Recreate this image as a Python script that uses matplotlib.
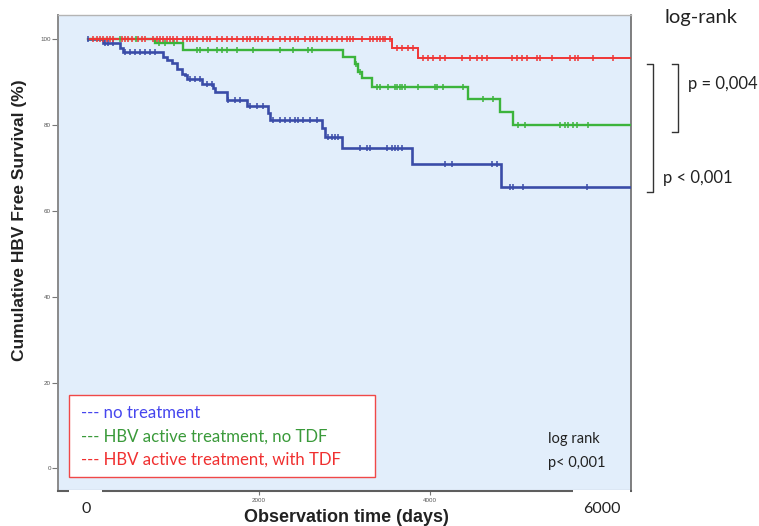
import numpy as np
import matplotlib
matplotlib.use("Agg")
import matplotlib.pyplot as plt
from matplotlib.lines import Line2D
from matplotlib.patches import Rectangle

# Kaplan-Meier step data: event times (days) and survival (%) after each step
blue_t = [0, 180, 374, 406, 881, 925, 980, 1040, 1100, 1135, 1154, 1330, 1466, 1485,
          1622, 1856, 2109, 2129, 2733, 2772, 2967, 3786, 4826]
blue_s = [100, 99.2, 98.0, 97.0, 95.9, 95.2, 94.4, 93.2, 92.0, 91.7, 90.7, 89.5, 88.6, 87.8,
          86.0, 84.5, 82.8, 81.2, 79.3, 77.2, 74.7, 70.9, 65.5]

green_t = [0, 784, 1107, 2987, 3123, 3162, 3201, 3318, 4448, 4819, 4975]
green_s = [100, 99.1, 97.6, 96.0, 94.3, 92.5, 90.9, 89.0, 86.1, 83.0, 80.0]

red_t = [0, 3552, 3856]
red_s = [100, 98.1, 95.7]

# censored observations (days)
blue_cens = [0, 199, 238, 296, 433, 491, 550, 608, 667, 725, 784, 1193, 1251, 1310, 1388, 1446,
             1641, 1719, 1778, 1895, 1973, 2051, 2168, 2246, 2304, 2363, 2421, 2460, 2519,
             2596, 2674, 2811, 2850, 2889, 2928, 3181, 3259, 3298, 3493, 3552, 3591, 3630,
             3669, 4175, 4254, 4722, 4780, 4936, 4967, 5084, 5833]
green_cens = [370, 560, 830, 900, 1000, 1270, 1310, 1407, 1505, 1563, 1622, 1739, 1934, 2246,
              2402, 2577, 2616, 3140, 3180, 3376, 3415, 3513, 3591, 3610, 3649, 3669, 3708,
              3864, 4058, 4078, 4156, 4390, 4624, 4741, 5033, 5111, 5520, 5579, 5618, 5676,
              5715, 5851]
red_cens = [62, 101, 140, 179, 218, 257, 296, 394, 433, 472, 511, 589, 628, 667, 764, 803,
            842, 881, 920, 959, 998, 1037, 1115, 1154, 1193, 1232, 1271, 1349, 1388, 1427,
            1505, 1563, 1622, 1680, 1739, 1817, 1856, 1895, 1953, 1992, 2031, 2109, 2168,
            2246, 2304, 2363, 2421, 2460, 2538, 2596, 2635, 2674, 2733, 2791, 2850, 2908,
            2967, 3025, 3064, 3103, 3201, 3298, 3337, 3376, 3415, 3454, 3474, 3532, 3610,
            3669, 3747, 3805, 3915, 3980, 4039, 4117, 4175, 4371, 4468, 4546, 4605, 4663,
            4955, 5014, 5072, 5131, 5248, 5287, 5423, 5637, 5696, 5734, 5910, 6143]

y_ticks = [0, 20, 40, 60, 80, 100]
x_ticks = [2000, 4000]
x_tick_labels = ["2000", "4000"]

legend_labels = ["--- no treatment",
                 "--- HBV active treatment, no TDF",
                 "--- HBV active treatment, with TDF"]

T_END = 6340
W, H = 759, 526

fig = plt.figure(figsize=(W / 100, H / 100), dpi=100)
fig.patch.set_facecolor("white")
ax = fig.add_axes([58 / W, 1 - 490.7 / H, (631 - 58) / W, (490.7 - 15) / H])
ax.set_facecolor("#e2eefb")


def step_value(times, surv, t):
    i = np.searchsorted(times, t, side="right") - 1
    return np.asarray(surv)[i]


def km(times, surv, cens, color, lw):
    tt = list(times) + [T_END]
    ss = list(surv) + [surv[-1]]
    ax.plot(tt, ss, drawstyle="steps-post", color=color, lw=lw, solid_joinstyle="miter",
            zorder=3)
    cy = [step_value(times, surv, c) for c in cens]
    ax.plot(cens, cy, linestyle="none", marker="|", markersize=5, mew=1.1, color=color,
            zorder=4)


km(blue_t, blue_s, blue_cens, "#3a4ca8", 1.9)
km(green_t, green_s, green_cens, "#3cb43c", 1.7)
km(red_t, red_s, red_cens, "#f03535", 1.4)

ax.set_xlim(-351, 6351)
ax.set_ylim(-5.2, 105.7)
ax.set_yticks(y_ticks)
ax.set_yticklabels([str(v) for v in y_ticks], fontsize=4.5, color="#555555",
                   family="Liberation Sans")
ax.set_xticks(x_ticks)
ax.set_xticklabels(x_tick_labels, fontsize=4.5, color="#555555", family="Liberation Sans")
ax.tick_params(axis="y", direction="out", length=4, width=0.8, color="#777777", pad=1)
ax.tick_params(axis="x", direction="out", length=3, width=0.8, color="#777777", pad=2)

for side, col, lw in [("left", "#8a8a8a", 1.4), ("bottom", "#5e5e5e", 1.5),
                      ("right", "#6a6a6a", 1.2), ("top", "#b4b4b4", 1.0)]:
    ax.spines[side].set_color(col)
    ax.spines[side].set_linewidth(lw)

# white patches over the lower axis line around the end labels
fig.add_artist(Rectangle((69 / W, 1 - 497 / H), 33 / W, 7.5 / H, transform=fig.transFigure,
                         facecolor="white", edgecolor="none", zorder=5))
fig.add_artist(Rectangle((573 / W, 1 - 497 / H), 57 / W, 7.5 / H, transform=fig.transFigure,
                         facecolor="white", edgecolor="none", zorder=5))

# axis titles
fig.text(20 / W, 1 - 220 / H, "Cumulative HBV Free Survival (%)", rotation=90,
         ha="center", va="center", fontsize=12.5, fontweight="bold", color="#222222",
         family="Liberation Sans")
fig.text(346 / W, 1 - 518 / H, "Observation time (days)", ha="center", va="center",
         fontsize=13, fontweight="bold", color="#222222", family="Liberation Sans")

cal = "Lato"
fig.text(86 / W, 1 - 509 / H, "0", ha="center", va="center", fontsize=11.5,
         color="#222222", family=cal)
fig.text(602 / W, 1 - 509 / H, "6000", ha="center", va="center", fontsize=11.5,
         color="#222222", family=cal)

# legend box
fig.add_artist(Rectangle((69 / W, 1 - 476.7 / H), (375 - 69) / W, (476.7 - 395) / H,
                         transform=fig.transFigure, facecolor="white",
                         edgecolor="#f04848", lw=1.0, zorder=6))
leg_colors = ["#4646ee", "#3a9a3a", "#f03030"]
for lab, col, yy in zip(legend_labels, leg_colors, [413, 437, 459.5]):
    fig.text(81 / W, 1 - yy / H, lab, ha="left", va="center", fontsize=12.1, color=col,
             family=cal, zorder=7)

# log-rank note inside the plot
fig.text(548 / W, 1 - 439 / H, "log rank", ha="left", va="center", fontsize=10.5,
         color="#222222", family=cal)
fig.text(548 / W, 1 - 463 / H, "p< 0,001", ha="left", va="center", fontsize=10.5,
         color="#222222", family=cal)

# pairwise comparisons on the right
fig.text(665 / W, 1 - 18 / H, "log-rank", ha="left", va="center", fontsize=14.5,
         color="#222222", family=cal)
fig.text(688 / W, 1 - 84 / H, "p = 0,004", ha="left", va="center", fontsize=12,
         color="#222222", family=cal)
fig.text(663 / W, 1 - 178 / H, "p < 0,001", ha="left", va="center", fontsize=12,
         color="#222222", family=cal)


def bracket(x_vert, x_tip, y_top, y_bot):
    xs = [x_tip / W, x_vert / W, x_vert / W, x_tip / W]
    ys = [1 - y_top / H, 1 - y_top / H, 1 - y_bot / H, 1 - y_bot / H]
    fig.add_artist(Line2D(xs, ys, transform=fig.transFigure, color="#333333", lw=1.0))


bracket(652.7, 646.5, 63.5, 192.5)
bracket(677.7, 671.5, 63.5, 131.5)

fig.savefig("out.png", dpi=100)
